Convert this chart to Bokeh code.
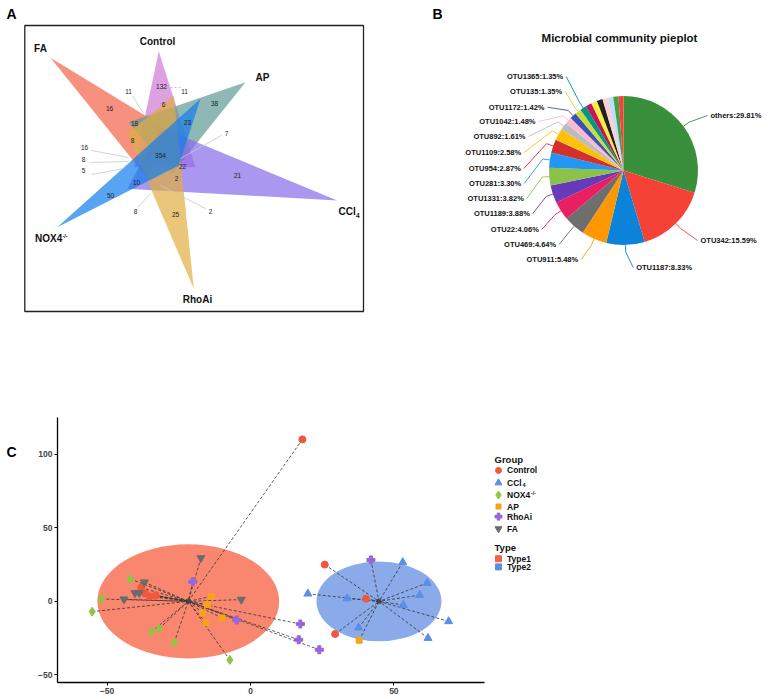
import numpy as np
from bokeh.plotting import figure
from bokeh.layouts import row, column
from bokeh.models import Range1d, FixedTicker
from bokeh.core.properties import value
from bokeh.embed import file_html
from bokeh.resources import INLINE

FONT = "Liberation Sans"

# ---------------- Panel A : six-set flower Venn ----------------
set_names = ["FA", "Control", "AP", "CCl4", "RhoAi", "NOX4-/-"]
set_colors = ["#f26248", "#ce77d3", "#5f9a95", "#846bea", "#e0ae40", "#137eed"]
petal_x = [[50, 180.3, 145.3], [158.3, 133.7, 195], [245, 128.3, 171.7],
           [336.7, 160, 126.7], [193.3, 126.7, 173.3], [56.7, 200, 178.3]]
petal_y = [[57.3, 136.7, 175.7], [50.7, 166.7, 166.7], [81.7, 121.7, 173.3],
           [200, 126.7, 188.3], [288.3, 133.3, 95], [226.7, 98.3, 165]]
venn_counts = ["132", "11", "11", "6", "38", "16", "18", "23", "7", "8", "16", "354",
               "8", "22", "5", "21", "2", "10", "50", "8", "25", "2"]
count_x = [161, 128, 184, 163, 214, 109, 134, 187, 226, 132, 84, 160, 83, 182, 83,
           237, 176, 136, 110, 135, 175, 210]
count_y = [86, 91, 91, 104, 103, 108, 123, 122, 133, 140, 147, 155, 159, 166, 170,
           175, 178, 182, 195, 211, 214, 211]
leader_x0 = [132, 91, 90, 91, 137, 205, 221]
leader_y0 = [95, 150, 162, 174, 207, 208, 135]
leader_x1 = [143, 128, 128, 123, 150, 160, 180]
leader_y1 = [113, 157, 161, 168, 193, 185, 158]
setlab_text = ["Control", "FA", "AP", "RhoAi"]
setlab_x = [157, 40, 262, 197]
setlab_y = [41, 48, 77, 299]

pA = figure(width=380, height=330, x_range=Range1d(0, 380), y_range=Range1d(-330, 0),
            output_backend="svg", toolbar_location=None, min_border=0,
            x_axis_location=None, y_axis_location=None)
pA.grid.visible = False
pA.outline_line_color = None
pA.quad(left=[24.3], right=[363], top=[-25], bottom=[-311], fill_color=None,
        line_color="#222222", line_width=1.3)
for xs, ys, c in zip(petal_x, petal_y, set_colors):
    pA.patch(xs, [-v for v in ys], fill_color=c, fill_alpha=0.7, line_color=None)
pA.segment(x0=leader_x0, y0=[-v for v in leader_y0], x1=leader_x1,
           y1=[-v for v in leader_y1], line_color="#c8c8c8", line_width=0.8)
pA.segment(x0=[170], y0=[-87], x1=[181], y1=[-87], line_color="#e0b0e8",
           line_width=1, line_dash="2 2")
pA.text(x=count_x, y=[-v for v in count_y], text=venn_counts, text_font=value(FONT),
        text_font_size="6.5px", text_align="center", text_baseline="middle",
        text_color="#222222")
pA.text(x=setlab_x, y=[-v for v in setlab_y], text=setlab_text, text_font=value(FONT),
        text_font_size="10px", text_font_style="bold", text_align="center",
        text_baseline="middle", text_color="#111111")
pA.text(x=[338], y=[-211], text=["CCl"], text_font=value(FONT), text_font_size="10px",
        text_font_style="bold", text_baseline="middle", text_color="#111111")
pA.text(x=[355.5], y=[-214.5], text=["4"], text_font=value(FONT), text_font_size="6.5px",
        text_font_style="bold", text_baseline="middle", text_color="#111111")
pA.text(x=[34.5], y=[-238], text=["NOX4"], text_font=value(FONT), text_font_size="10px",
        text_font_style="bold", text_baseline="middle", text_color="#111111")
pA.text(x=[62], y=[-235], text=["-/-"], text_font=value(FONT), text_font_size="5.5px",
        text_font_style="bold", text_baseline="middle", text_color="#111111")
pA.text(x=[6], y=[-13], text=["A"], text_font=value(FONT), text_font_size="14px",
        text_font_style="bold", text_baseline="middle", text_color="#000000")

# ---------------- Panel B : pie ----------------
pie_names = ["others", "OTU342", "OTU1187", "OTU911", "OTU469", "OTU22", "OTU1189",
             "OTU1331", "OTU281", "OTU954", "OTU1109", "OTU892", "OTU1042", "OTU1172",
             "OTU135", "OTU1365", "", "", "", "", "", "", ""]
pie_values = [29.81, 15.59, 8.33, 5.48, 4.64, 4.06, 3.88, 3.82, 3.30, 2.87, 2.58, 1.61,
              1.48, 1.42, 1.35, 1.35, 1.33, 1.30, 1.25, 1.20, 1.15, 1.12, 1.08]
pie_colors = ["#3a8f3c", "#f44336", "#0b83d9", "#ff9800", "#6e6e6e", "#e91e63",
              "#673ab7", "#8bc34a", "#2196f3", "#d32f2f", "#ffc107", "#bdbdbd",
              "#f8bbd0", "#3f51b5", "#cddc39", "#009688", "#c2185b", "#ffeb3b",
              "#212121", "#ffcdd2", "#bbdefb", "#43a047", "#f44336"]
lab_anchor_x = [710, 700, 635.7, 577.7, 555.7, 538.3, 529.3, 523.3, 520.7, 520.3, 520.7,
                525, 535, 544, 561.7, 562.7]
lab_anchor_y = [115, 240, 267, 259, 244, 229, 213, 198, 183, 168, 152, 136, 121, 106.7,
                90.7, 76]
lab_side = ["L", "L", "L"] + ["R"] * 13   # L: text starts at anchor, R: text ends at anchor

cx, cy, rad = 623.0, -170.0, 74.5
vals = np.array(pie_values)
frac = vals / vals.sum()
cum = np.concatenate([[0], np.cumsum(frac)])
start = np.pi / 2 - 2 * np.pi * cum[:-1]
end = np.pi / 2 - 2 * np.pi * cum[1:]
mid = (start + end) / 2

pB = figure(width=388, height=330, x_range=Range1d(380, 768), y_range=Range1d(-330, 0),
            output_backend="svg", toolbar_location=None, min_border=0,
            x_axis_location=None, y_axis_location=None)
pB.grid.visible = False
pB.outline_line_color = None
pB.wedge(x=cx, y=cy, radius=rad, start_angle=start, end_angle=end, direction="clock",
         fill_color=pie_colors, line_color=None)
for i in range(len(lab_anchor_x)):
    a = mid[i]
    ax, ay = lab_anchor_x[i], -lab_anchor_y[i]
    ex = ax - 3 if lab_side[i] == "L" else ax + 3
    xs = [cx + rad * np.cos(a), cx + (rad + 7) * np.cos(a), ex]
    ys = [cy + rad * np.sin(a), cy + (rad + 7) * np.sin(a), ay]
    pB.line(xs, ys, line_color=pie_colors[i], line_width=0.9)
    txt = "%s:%.2f%%" % (pie_names[i], pie_values[i])
    pB.text(x=[ax], y=[ay], text=[txt], text_font=value(FONT), text_font_size="7.5px",
            text_font_style="bold", text_align="left" if lab_side[i] == "L" else "right",
            text_baseline="middle", text_color="#111111")
pB.text(x=[619], y=[-37], text=["Microbial community pieplot"], text_font=value(FONT),
        text_font_size="11.5px", text_font_style="bold", text_align="center",
        text_baseline="middle", text_color="#111111")
pB.text(x=[432], y=[-13], text=["B"], text_font=value(FONT), text_font_size="14px",
        text_font_style="bold", text_baseline="middle", text_color="#000000")

# ---------------- Panel C : PCoA scatter ----------------
ctrl_x = [18.1, -38.1, -36.8, -35.1, -33.0, 25.9, 40.3, 29.5]
ctrl_y = [110.2, 9.3, 5.5, 3.4, 4.0, 25.0, 1.8, -22.2]
ctrl_c = [0, 0, 0, 0, 0, 1, 1, 1]
ccl4_x = [20.0, 33.7, 53.1, 61.6, 59.0, 53.3, 69.1, 61.9, 37.7]
ccl4_y = [5.2, 2.0, 26.6, 12.5, 4.3, -2.5, -13.6, -25.0, -17.9]
ccl4_c = [1, 1, 1, 1, 1, 1, 1, 1, 1]
nox_x = [-41.9, -52.0, -55.2, -34.5, -31.8, -26.6, -7.2]
nox_y = [15.2, 1.6, -7.0, -20.6, -18.4, -28.1, -39.9]
nox_c = [0, 0, 0, 0, 0, 0, 0]
ap_x = [-13.7, -15.0, -16.6, -15.6, -9.9, 37.9]
ap_y = [3.4, -2.2, -7.9, -14.5, -11.3, -26.5]
ap_c = [0, 0, 0, 0, 0, 1]
rho_x = [-20.1, -4.8, 17.4, 16.8, 24.0, 42.0]
rho_y = [13.4, -12.7, -15.4, -26.1, -32.9, 28.2]
rho_c = [0, 0, 0, 0, 0, 1]
fa_x = [-17.3, -37.0, -40.3, -38.8, -44.1, -3.2]
fa_y = [29.5, 13.0, 5.7, 5.7, 1.4, 1.2]
fa_c = [0, 0, 0, 0, 0, 0]

type_names = ["Type1", "Type2"]
type_colors = ["#f9866f", "#8aaaea"]
type_legend_colors = ["#f0634a", "#5b8ee6"]
centroid_x = [-21.7, 44.8]
centroid_y = [0.0, 0.0]
ellipse_w = [63.4, 43.6]
ellipse_h = [77.6, 54.4]

groups = [
    ("Control", ctrl_x, ctrl_y, ctrl_c, "circle", "#f0583c", 7),
    ("CCl4", ccl4_x, ccl4_y, ccl4_c, "triangle", "#5b8ee6", 8),
    ("NOX4-/-", nox_x, nox_y, nox_c, "diamond", "#8dc63f", 9),
    ("AP", ap_x, ap_y, ap_c, "square", "#f7a21b", 6),
    ("RhoAi", rho_x, rho_y, rho_c, "plus", "#9866d8", 8),
    ("FA", fa_x, fa_y, fa_c, "inverted_triangle", "#6b6b6b", 8),
]

pC = figure(width=456, height=369, x_range=Range1d(-67.3, 81.6),
            y_range=Range1d(-55.2, 125.1), output_backend="svg", toolbar_location=None,
            min_border_left=23, min_border_right=6, min_border_top=87,
            min_border_bottom=17)
pC.grid.visible = False
pC.outline_line_color = None
pC.ellipse(x=centroid_x, y=centroid_y, width=ellipse_w, height=ellipse_h,
           fill_color=type_colors, line_color=None)
for name, xs, ys, cl, mk, col, sz in groups:
    pC.segment(x0=xs, y0=ys, x1=[centroid_x[c] for c in cl],
               y1=[centroid_y[c] for c in cl], line_color="#333333", line_width=0.8,
               line_dash="3 2")
for name, xs, ys, cl, mk, col, sz in groups:
    pC.scatter(xs, ys, marker=mk, size=sz, fill_color=col, line_color=col)
pC.scatter(centroid_x, centroid_y, marker="asterisk", size=6, line_color="#444444",
           line_width=1.2)
for ax in (pC.xaxis[0], pC.yaxis[0]):
    ax.axis_line_color = "#000000"
    ax.axis_line_width = 1.3
    ax.major_tick_line_color = "#000000"
    ax.major_tick_out = 3
    ax.major_tick_in = 0
    ax.minor_tick_line_color = None
    ax.major_label_text_font = FONT
    ax.major_label_text_font_style = "bold"
    ax.major_label_text_font_size = "8.5px"
    ax.major_label_standoff = 2
pC.xaxis.ticker = FixedTicker(ticks=[-50, 0, 50])
pC.yaxis.ticker = FixedTicker(ticks=[-50, 0, 50, 100])

pCL = figure(width=34, height=369, x_range=Range1d(0, 34), y_range=Range1d(-699, -330),
             output_backend="svg", toolbar_location=None, min_border=0,
             x_axis_location=None, y_axis_location=None)
pCL.grid.visible = False
pCL.outline_line_color = None
pCL.text(x=[6], y=[-378], text=["C"], text_font=value(FONT), text_font_size="14px",
         text_font_style="bold", text_baseline="middle", text_color="#000000")

# legend panel
leg_y = [403.7, 421, 438, 454, 468, 485]
pL = figure(width=278, height=369, x_range=Range1d(490, 768), y_range=Range1d(-699, -330),
            output_backend="svg", toolbar_location=None, min_border=0,
            x_axis_location=None, y_axis_location=None)
pL.grid.visible = False
pL.outline_line_color = None
pL.text(x=[494, 494], y=[-389, -510.7], text=["Group", "Type"], text_font=value(FONT),
        text_font_size="9.5px", text_font_style="bold", text_baseline="middle",
        text_color="#111111")
for (name, xs, ys, cl, mk, col, sz), ly in zip(groups, leg_y):
    pL.scatter([498], [-ly], marker=mk, size=max(sz - 1, 5), fill_color=col,
               line_color=col)
    base = name.replace("4-/-", "4").replace("CCl4", "CCl")
    pL.text(x=[506.5], y=[-ly], text=[base], text_font=value(FONT), text_font_size="8.5px",
            text_font_style="bold", text_baseline="middle", text_color="#111111")
pL.text(x=[522], y=[-421 - 2.5], text=["4"], text_font=value(FONT), text_font_size="5.5px",
        text_font_style="bold", text_baseline="middle", text_color="#111111")
pL.text(x=[530.5], y=[-438 + 2.5], text=["-/-"], text_font=value(FONT),
        text_font_size="5px", text_font_style="bold", text_baseline="middle",
        text_color="#111111")
type_y = [526.7, 538]
pL.scatter([498, 498], [-v for v in type_y], marker="square", size=6,
           fill_color=type_legend_colors, line_color=type_legend_colors)
pL.text(x=[506.5, 506.5], y=[-v for v in type_y], text=type_names, text_font=value(FONT),
        text_font_size="8.5px", text_font_style="bold", text_baseline="middle",
        text_color="#111111")

layout = column(row(pA, pB), row(pCL, pC, pL))
open("out.html", "w").write(file_html(layout, INLINE))
